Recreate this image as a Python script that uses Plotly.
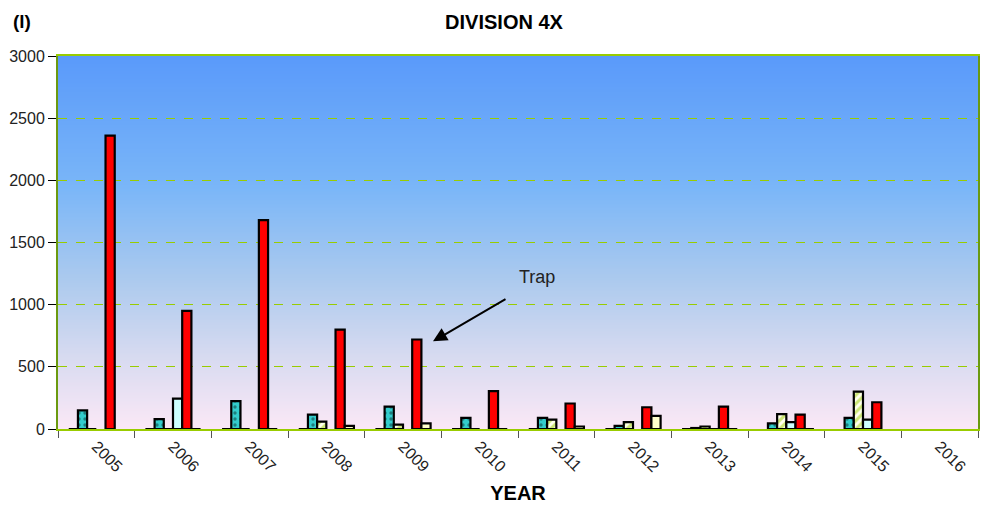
import zlib, struct, base64
import plotly.graph_objects as go

years = ["2005", "2006", "2007", "2008", "2009", "2010", "2011", "2012", "2013", "2014", "2015", "2016"]
s_blank = [0, 0, 0, 0, 0, 0, 0, 0, 0, None, None, None]
s_teal = [150, 80, 225, 115, 180, 90, 90, 25, 8, 45, 90, None]
s_green = [0, 0, 0, 60, 35, 0, 75, 55, 20, 120, 300, None]
s_cyan = [None, 245, None, None, None, None, None, None, 0, 55, 75, None]
s_red = [2360, 950, 1680, 800, 720, 305, 205, 175, 180, 115, 215, None]
s_cream = [None, 0, 0, 25, 45, 0, 20, 105, 0, 0, None, None]


def gradient_png(stops, h=256):
    rows = b""
    for i in range(h):
        t = i / (h - 1)
        for j in range(len(stops) - 1):
            t0, c0 = stops[j]
            t1, c1 = stops[j + 1]
            if t0 <= t <= t1:
                f = (t - t0) / (t1 - t0) if t1 > t0 else 0
                rgb = [round(c0[k] + (c1[k] - c0[k]) * f) for k in range(3)]
                break
        rows += b"\x00" + bytes(rgb)

    def chunk(tag, data):
        return struct.pack(">I", len(data)) + tag + data + struct.pack(">I", zlib.crc32(tag + data) & 0xFFFFFFFF)

    png = (b"\x89PNG\r\n\x1a\n"
           + chunk(b"IHDR", struct.pack(">IIBBBBB", 1, h, 8, 2, 0, 0, 0))
           + chunk(b"IDAT", zlib.compress(rows))
           + chunk(b"IEND", b""))
    return "data:image/png;base64," + base64.b64encode(png).decode()


bg = gradient_png([
    (0.0, (90, 154, 250)),
    (0.35, (122, 182, 248)),
    (0.6, (172, 202, 238)),
    (0.8, (214, 218, 240)),
    (1.0, (251, 232, 246)),
])

line = dict(color="black", width=2.2)
fig = go.Figure()
fig.add_bar(x=years, y=s_blank, marker=dict(color="white", line=line))
fig.add_bar(x=years, y=s_teal, marker=dict(color="#33CCCC", line=line,
            pattern=dict(shape=".", fgcolor="#0A3030", bgcolor="#33CCCC", size=6, solidity=0.25)))
fig.add_bar(x=years, y=s_green, marker=dict(color="#99CC00", line=line,
            pattern=dict(shape="/", fgcolor="#99CC00", bgcolor="#FFFFEE", size=6, solidity=0.5)))
fig.add_bar(x=years, y=s_cyan, marker=dict(color="#CCFFFF", line=line))
fig.add_bar(x=years, y=s_red, marker=dict(color="#FF0000", line=line))
fig.add_bar(x=years, y=s_cream, marker=dict(color="#FFFFCC", line=line))

trap_idx = years.index("2009")

font = "Liberation Sans, Arial, sans-serif"
fig.update_layout(
    width=981, height=508,
    margin=dict(l=58, r=1, t=56, b=79),
    barmode="group", bargap=0.28, bargroupgap=0,
    showlegend=False,
    paper_bgcolor="white", plot_bgcolor="rgba(0,0,0,0)",
    font=dict(family=font, size=15, color="#222"),
    title=dict(text="<b>DIVISION 4X</b>", x=(505 - 58) / 922, xref="paper", xanchor="center",
               y=1 - 22 / 508, yanchor="middle", font=dict(size=20, color="black")),
    images=[dict(source=bg, xref="paper", yref="paper", x=0, y=1, sizex=1, sizey=1,
                 sizing="stretch", layer="below", xanchor="left", yanchor="top")],
    xaxis=dict(type="category", tickson="boundaries", ticks="outside", ticklen=7, tickcolor="#555",
               tickangle=45, showline=True, linecolor="#99CC00", linewidth=2, mirror=True,
               showgrid=False, tickfont=dict(size=16, color="#222"),
               range=[-0.5, len(years) - 0.5], autorange=False,
               title=dict(text="<b>YEAR</b>", font=dict(size=20, color="black"), standoff=12)),
    yaxis=dict(range=[0, 3000], dtick=500, ticks="outside", ticklen=8, tickcolor="black",
               showline=True, linecolor="#6B9A10", linewidth=2, mirror=True,
               showgrid=True, gridcolor="#99CC00", griddash="dash", gridwidth=1,
               zeroline=False, tickfont=dict(size=16, color="#222")),
)
fig.add_annotation(x=trap_idx, y=705, xshift=30, text="", showarrow=True, arrowhead=2,
                   arrowsize=1.4, arrowwidth=2, arrowcolor="black", ax=74, ay=-43)
fig.add_annotation(x=trap_idx, y=1222, xshift=134, text="Trap", showarrow=False,
                   font=dict(size=18, color="#222"))
fig.add_annotation(xref="paper", yref="paper", x=-36 / 922, y=1 + 34 / 373, text="<b>(l)</b>",
                   xanchor="center", yanchor="middle",
                   showarrow=False, font=dict(size=19, color="black"))
fig.write_html("out.html")
